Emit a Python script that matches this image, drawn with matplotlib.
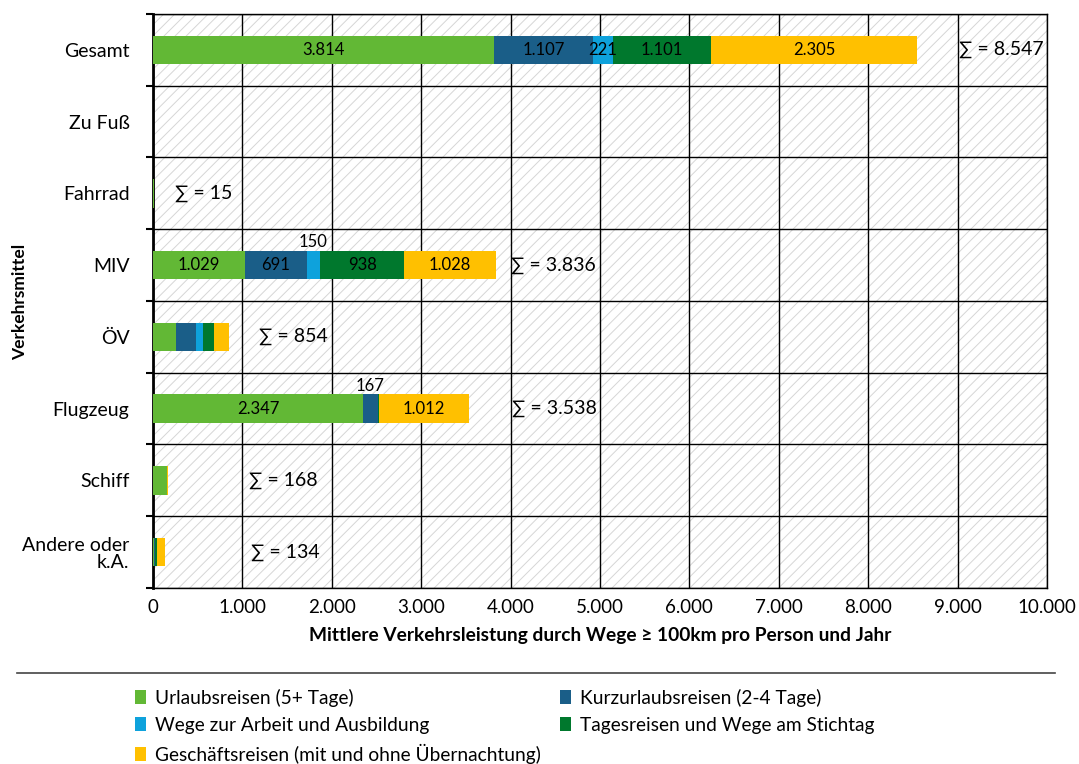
import matplotlib.pyplot as plt
from matplotlib.patches import Rectangle

plt.rcParams['font.family'] = ['Lato', 'DejaVu Sans']
plt.rcParams['hatch.linewidth'] = 0.7
plt.rcParams['hatch.color'] = '#d6d6d6'

# Verkehrsmittel (von oben nach unten)
verkehrsmittel = ['Gesamt', 'Zu Fuß', 'Fahrrad', 'MIV', 'ÖV', 'Flugzeug', 'Schiff', 'Andere oder\nk.A.']

# Mittlere Verkehrsleistung je Wegezweck
urlaub = [3814, 0, 8, 1029, 258, 2347, 155, 15]
kurzurlaub = [1107, 0, 2, 691, 220, 167, 3, 2]
arbeit = [221, 0, 1, 150, 80, 5, 0, 2]
tagesreisen = [1101, 0, 2, 938, 125, 7, 0, 30]
geschaeft = [2305, 0, 2, 1028, 171, 1012, 10, 85]
summen = [8547, 0, 15, 3836, 854, 3538, 168, 134]

reihen = [
    ('Urlaubsreisen (5+ Tage)', urlaub, '#62b835'),
    ('Kurzurlaubsreisen (2-4 Tage)', kurzurlaub, '#1a5e88'),
    ('Wege zur Arbeit und Ausbildung', arbeit, '#0ea2dc'),
    ('Tagesreisen und Wege am Stichtag', tagesreisen, '#00782d'),
    ('Geschäftsreisen (mit und ohne Übernachtung)', geschaeft, '#ffc000'),
]

# x-Position der Summenbeschriftung
summen_x = [9020, None, 250, 4010, 1190, 4020, 1070, 1100]


def fmt(v):
    return f'{v:,.0f}'.replace(',', '.')


fig = plt.figure(figsize=(10.79, 7.64), dpi=100)
ax = fig.add_axes([0.1418, 0.2304, 0.8285, 0.7513])

# schraffierter Hintergrund
ax.add_patch(Rectangle((0, 0), 1, 1, transform=ax.transAxes, facecolor='white',
                       edgecolor='#d6d6d6', hatch='///', lw=0, zorder=0))

y = list(range(len(verkehrsmittel)))
links = [0] * len(verkehrsmittel)
handles = []
for name, werte, farbe in reihen:
    bars = ax.barh(y, werte, left=links, height=0.4, color=farbe, label=name, zorder=3)
    handles.append(bars)
    for i, (v, l) in enumerate(zip(werte, links)):
        if summen[i] < 3000:
            continue
        if v >= 200:
            ax.text(l + v / 2, i, fmt(v), ha='center', va='center', fontsize=12, zorder=4)
        elif v >= 150:
            ax.text(l + v / 2, i - 0.21, fmt(v), ha='center', va='bottom', fontsize=12, zorder=4)
    links = [a + b for a, b in zip(links, werte)]

for i, (s, sx) in enumerate(zip(summen, summen_x)):
    if sx is not None:
        ax.text(sx, i, f'∑ = {fmt(s)}', ha='left', va='center', fontsize=14, zorder=4)

ax.set_xlim(0, 10000)
ax.set_ylim(len(verkehrsmittel) - 0.5, -0.5)
ax.set_xticks(range(0, 10001, 1000))
ax.set_xticklabels([fmt(v) for v in range(0, 10001, 1000)], fontsize=13.5)
ax.set_yticks(y)
ax.set_yticklabels(verkehrsmittel, fontsize=14, linespacing=1.05)
ax.set_yticks([i - 0.5 for i in range(len(verkehrsmittel) + 1)], minor=True)
ax.tick_params(axis='y', which='major', length=0, pad=17)
ax.tick_params(axis='y', which='minor', length=5, width=1.5, direction='out')
ax.tick_params(axis='x', length=0, pad=8)

ax.grid(True, axis='x', which='major', color='black', lw=1, zorder=1)
ax.grid(True, axis='y', which='minor', color='black', lw=1, zorder=1)
ax.set_axisbelow(True)
for side in ['top', 'right', 'bottom']:
    ax.spines[side].set_linewidth(1)
ax.spines['left'].set_linewidth(2)

ax.set_xlabel('Mittlere Verkehrsleistung durch Wege ≥ 100km pro Person und Jahr',
              fontsize=13.8, fontweight='bold', labelpad=8)
fig.text(20 / 1079, 1 - 302 / 764, 'Verkehrsmittel', rotation=90, ha='center', va='center',
         fontsize=12.5, fontweight='bold')

# Trennlinie über der Legende
fig.add_artist(plt.Line2D([0.016, 0.978], [1 - 673 / 764] * 2, color='#444444', lw=1.2))

order = [0, 2, 4, 1, 3]
fig.legend([handles[k] for k in order], [reihen[k][0] for k in order],
           loc='upper left', bbox_to_anchor=(0.114, 1 - 677 / 764), ncol=2,
           frameon=False, fontsize=13.8, handlelength=0.6, handleheight=0.8,
           handletextpad=0.45, columnspacing=1.0, labelspacing=0.52,
           borderaxespad=0.2)

fig.savefig('out.png', dpi=100)
